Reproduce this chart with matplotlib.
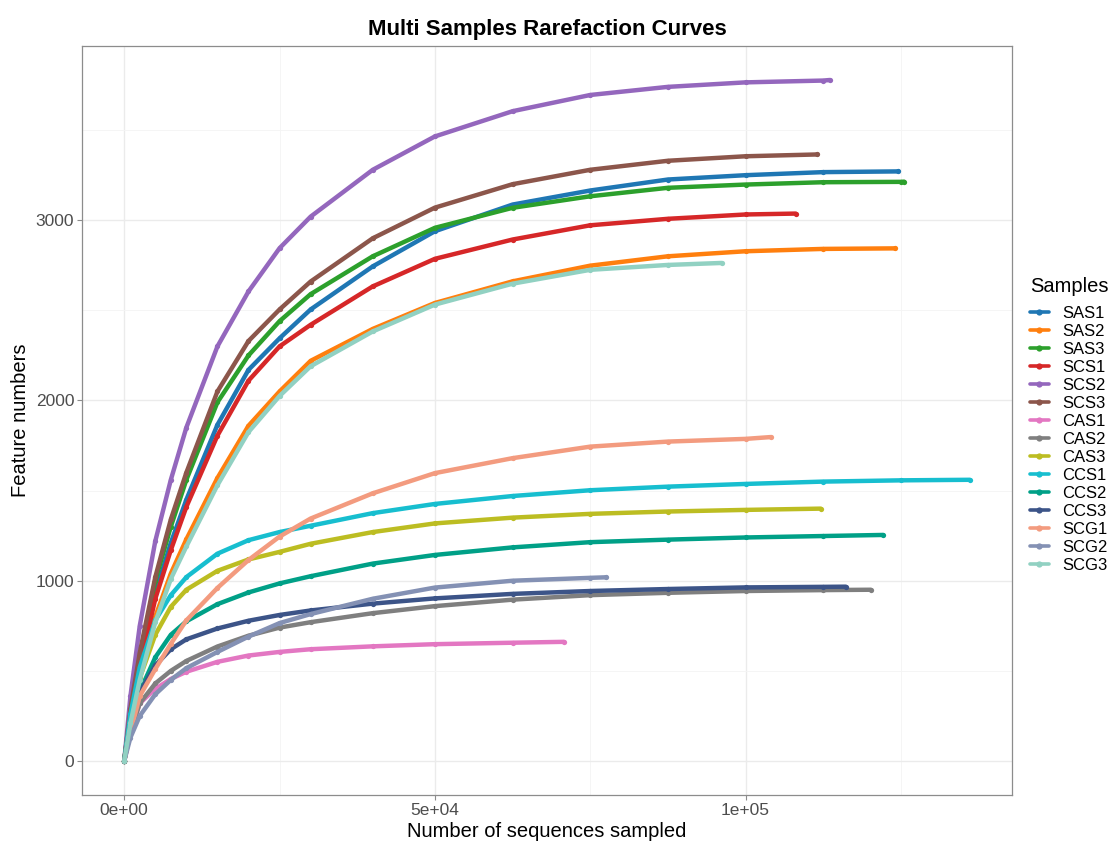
import matplotlib
matplotlib.use("Agg")
import matplotlib.pyplot as plt
from matplotlib.ticker import FixedLocator

plt.rcParams['font.family'] = ['Liberation Sans', 'DejaVu Sans']

# rarefaction depths; each sample uses the leading part
depth_steps = [0, 1000, 2500, 5000, 7500, 10000, 15000, 20000, 25000, 30000,
               40000, 50000, 62500, 75000, 87500, 100000, 112500, 125000]

samples = ["SAS1", "SAS2", "SAS3", "SCS1", "SCS2", "SCS3", "CAS1", "CAS2",
           "CAS3", "CCS1", "CCS2", "CCS3", "SCG1", "SCG2", "SCG3"]

sample_colors = ["#1F77B4", "#FF7F0E", "#2CA02C", "#D62728", "#9467BD",
                 "#8C564B", "#E377C2", "#7F7F7F", "#BCBD22", "#17BECF",
                 "#00A087", "#3C5488", "#F39B7F", "#8491B4", "#91D1C2"]

# last sampled depth of each sample
end_depth = [124600, 124040, 125500, 108050, 113530, 111530, 70740, 120130,
             112080, 136070, 122110, 116100, 104020, 77560, 96130]

# feature numbers at depth_steps (below end depth), last value at end depth
SAS1 = [0, 260, 540, 930, 1210, 1450, 1865, 2170, 2345, 2505, 2744, 2939,
        3087, 3165, 3226, 3250, 3267, 3271]
SAS2 = [0, 220, 470, 800, 1040, 1230, 1570, 1860, 2050, 2220, 2397, 2541,
        2661, 2748, 2800, 2828, 2841, 2844]
SAS3 = [0, 280, 580, 1000, 1300, 1560, 1990, 2250, 2440, 2590, 2800, 2958,
        3069, 3133, 3180, 3198, 3211, 3213, 3214]
SCS1 = [0, 255, 520, 900, 1170, 1410, 1805, 2110, 2300, 2420, 2633, 2786,
        2893, 2972, 3008, 3032, 3037]
SCS2 = [0, 360, 750, 1220, 1560, 1850, 2300, 2605, 2845, 3020, 3280, 3465,
        3605, 3695, 3740, 3765, 3775, 3778]
SCS3 = [0, 290, 600, 1020, 1340, 1600, 2050, 2330, 2505, 2660, 2900, 3070,
        3200, 3280, 3330, 3355, 3365]
CAS1 = [0, 160, 320, 400, 455, 495, 550, 585, 605, 620, 636, 648, 656, 661]
CAS2 = [0, 160, 320, 430, 500, 555, 635, 695, 740, 770, 820, 859, 895, 920,
        933, 943, 948, 950]
CAS3 = [0, 230, 460, 700, 855, 950, 1055, 1118, 1160, 1205, 1270, 1318,
        1350, 1371, 1384, 1393, 1400]
CCS1 = [0, 260, 520, 780, 920, 1020, 1150, 1225, 1270, 1305, 1375, 1426,
        1470, 1502, 1522, 1537, 1550, 1557, 1560]
CCS2 = [0, 190, 385, 575, 700, 775, 870, 935, 985, 1025, 1095, 1143, 1185,
        1214, 1228, 1240, 1248, 1254]
CCS3 = [0, 190, 380, 530, 620, 675, 735, 778, 810, 835, 873, 902, 927, 943,
        954, 963, 966, 967]
SCG1 = [0, 160, 360, 510, 650, 780, 960, 1115, 1245, 1345, 1485, 1597, 1680,
        1744, 1772, 1787, 1797]
SCG2 = [0, 130, 250, 370, 450, 515, 605, 690, 765, 815, 900, 962, 1000,
        1016, 1019]
SCG3 = [0, 210, 450, 770, 1010, 1190, 1530, 1825, 2025, 2190, 2383, 2532,
        2648, 2725, 2752, 2763]

feature_values = [SAS1, SAS2, SAS3, SCS1, SCS2, SCS3, CAS1, CAS2, CAS3,
                  CCS1, CCS2, CCS3, SCG1, SCG2, SCG3]

x_ticks = [0, 50000, 100000]
x_tick_labels = ["0e+00", "5e+04", "1e+05"]
x_minor = [25000, 75000, 125000]
y_ticks = [0, 1000, 2000, 3000]
y_minor = [500, 1500, 2500, 3500]


def sample_depths(values, last):
    """depths for one sample: grid steps then its last depth"""
    return depth_steps[:len(values) - 1] + [last]


fig = plt.figure(figsize=(11.15, 8.42), dpi=100)
ax = fig.add_axes([0.0735, 0.0558, 0.8341, 0.8896])

for name, vals, last, col in zip(samples, feature_values, end_depth,
                                 sample_colors):
    ax.plot(sample_depths(vals, last), vals, color=col, lw=3.2,
            marker="o", markersize=3.8, markeredgewidth=0,
            solid_capstyle="round", solid_joinstyle="round", label=name)

x_max = max(end_depth)
y_max = max(max(v) for v in feature_values)
ax.set_xlim(-0.05 * x_max, 1.05 * x_max)
ax.set_ylim(-0.05 * y_max, 1.05 * y_max)

ax.xaxis.set_major_locator(FixedLocator(x_ticks))
ax.xaxis.set_minor_locator(FixedLocator(x_minor))
ax.set_xticklabels(x_tick_labels)
ax.yaxis.set_major_locator(FixedLocator(y_ticks))
ax.yaxis.set_minor_locator(FixedLocator(y_minor))

ax.grid(which="major", color="#EBEBEB", lw=1.0)
ax.grid(which="minor", color="#F4F4F4", lw=0.6)
ax.set_axisbelow(True)
ax.tick_params(which="major", length=3.5, width=0.8, color="#8C8C8C",
               labelsize=12.5, labelcolor="#4D4D4D", pad=2)
ax.tick_params(which="minor", length=0)
for sp in ax.spines.values():
    sp.set_color("#8C8C8C")
    sp.set_linewidth(0.9)

ax.set_xlabel("Number of sequences sampled", fontsize=14.5, labelpad=3)
ax.set_ylabel("Feature numbers", fontsize=14.5, labelpad=4)
ax.set_title("Multi Samples Rarefaction Curves", fontsize=16,
             fontweight="bold", pad=8)

leg = fig.legend(loc="upper left", bbox_to_anchor=(0.918, 0.679),
                 frameon=False, fontsize=12, title="Samples",
                 title_fontsize=14.5, handlelength=1.1, handletextpad=0.8,
                 labelspacing=0.18, borderaxespad=0)
leg._legend_box.align = "left"
leg._legend_box.sep = 7
for h in leg.legend_handles:
    h.set_linewidth(2.6)
    h.set_markersize(4.5)

fig.savefig("out.png", dpi=100)
